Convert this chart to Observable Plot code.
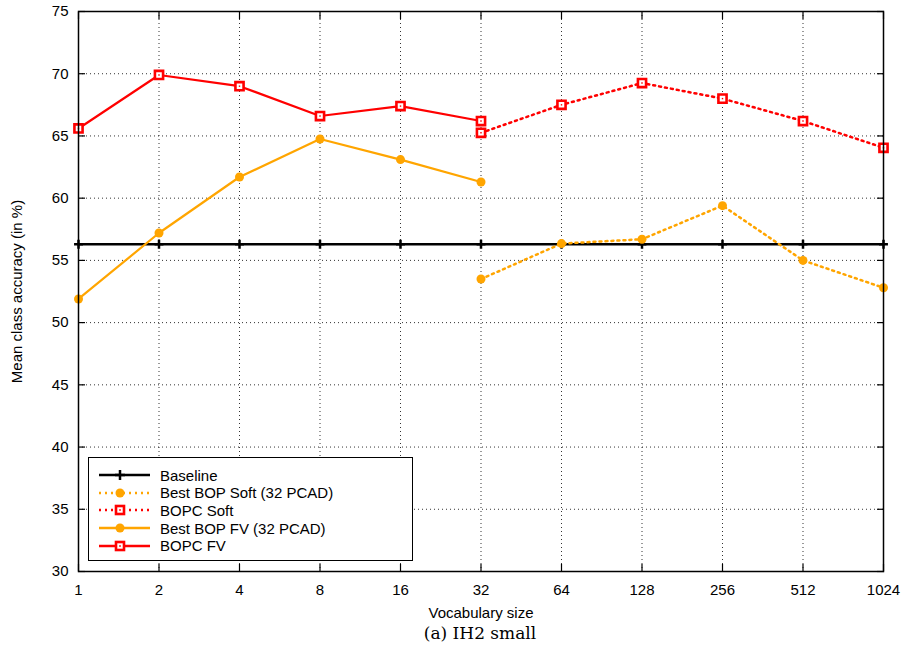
<!DOCTYPE html>
<html>
<head>
<meta charset="utf-8">
<script src="https://cdn.jsdelivr.net/npm/d3@7"></script>
<script src="https://cdn.jsdelivr.net/npm/@observablehq/plot@0.6"></script>
<style>
  html, body { margin: 0; padding: 0; background: #fff; }
  #wrap { position: relative; width: 908px; }
  #chart svg { display: block; }
  #caption { display: block; width: 960px; margin-top: 1px; text-align: center; line-height: 21px;
    font-family: "DejaVu Serif", "Liberation Serif", serif; font-size: 17px; color: #000; }
  #legend { position: absolute; left: 88px; top: 457px; width: 325px; height: 104px;
    border: 1.5px solid #000; background: #fff; box-sizing: border-box;
    font-family: "Liberation Sans", Arial, sans-serif; font-size: 15px; }
  #legend .row { position: absolute; left: 0; height: 18px; display: flex; align-items: center; }
  #legend svg { margin-left: 10px; }
  #legend span { margin-left: 10px; white-space: nowrap; }
</style>
</head>
<body>
<div id="wrap">
  <div id="chart"></div>
  <div id="legend"></div>
  <div id="caption">(a) IH2 small</div>
</div>
<script>
// ---- data ----
const vocabTicks = [1, 2, 4, 8, 16, 32, 64, 128, 256, 512, 1024];
const yTicks = [30, 35, 40, 45, 50, 55, 60, 65, 70, 75];

const baselineX = [1, 2, 4, 8, 16, 32, 64, 128, 256, 512, 1024];
const baselineY = [56.3, 56.3, 56.3, 56.3, 56.3, 56.3, 56.3, 56.3, 56.3, 56.3, 56.3];

const bopSoftX = [32, 64, 128, 256, 512, 1024];
const bopSoftY = [53.5, 56.35, 56.7, 59.4, 55.0, 52.8];

const bopcSoftX = [32, 64, 128, 256, 512, 1024];
const bopcSoftY = [65.25, 67.5, 69.25, 68.0, 66.2, 64.05];

const bopFvX = [1, 2, 4, 8, 16, 32];
const bopFvY = [51.9, 57.2, 61.7, 64.75, 63.1, 61.3];

const bopcFvX = [1, 2, 4, 8, 16, 32];
const bopcFvY = [65.6, 69.9, 69.0, 66.6, 67.4, 66.2];

const seriesNames = ["Baseline", "Best BOP Soft (32 PCAD)", "BOPC Soft", "Best BOP FV (32 PCAD)", "BOPC FV"];

// ---- build tables ----
const zip = (xs, ys) => xs.map((x, i) => ({x, y: ys[i]}));
const baseline = zip(baselineX, baselineY);
const bopSoft = zip(bopSoftX, bopSoftY);
const bopcSoft = zip(bopcSoftX, bopcSoftY);
const bopFv = zip(bopFvX, bopFvY);
const bopcFv = zip(bopcFvX, bopcFvY);

const ORANGE = "#ffa500";
const RED = "#ff0000";
const DOT = "2 4";

const crossSymbol = {
  draw(context, size) {
    const r = Math.sqrt(size) / 2;
    context.moveTo(-r, 0); context.lineTo(r, 0);
    context.moveTo(0, -r); context.lineTo(0, r);
  }
};

const font = "'Liberation Sans', Arial, sans-serif";

const chart = Plot.plot({
  width: 908,
  height: 622,
  marginLeft: 78,
  marginRight: 25,
  marginTop: 11,
  marginBottom: 51,
  style: {fontFamily: font, fontSize: "15px", color: "#000", background: "#fff"},
  x: {type: "log", base: 2, domain: [1, 1024]},
  y: {domain: [30, 75]},
  marks: [
    Plot.gridX(vocabTicks, {stroke: "#000", strokeOpacity: 0.8, strokeDasharray: "1 3", strokeWidth: 1}),
    Plot.gridY(yTicks, {stroke: "#000", strokeOpacity: 0.8, strokeDasharray: "1 3", strokeWidth: 1}),
    Plot.axisX({ticks: vocabTicks, tickFormat: d => String(d), tickSize: -7, tickPadding: 20,
      label: "Vocabulary size", labelAnchor: "center", labelArrow: "none", labelOffset: 46, strokeWidth: 1.2}),
    Plot.axisX({anchor: "top", ticks: vocabTicks, tickFormat: () => "", tickSize: -7, label: null, strokeWidth: 1.2}),
    Plot.axisY({ticks: yTicks, tickSize: -7, tickPadding: 17,
      label: "Mean class accuracy (in %)", labelAnchor: "center", labelArrow: "none", labelOffset: 67, strokeWidth: 1.2}),
    Plot.axisY({anchor: "right", ticks: yTicks, tickFormat: () => "", tickSize: -7, label: null, strokeWidth: 1.2}),
    // Baseline
    Plot.line(baseline, {x: "x", y: "y", stroke: "#000", strokeWidth: 2.5}),
    Plot.dot(baseline, {x: "x", y: "y", symbol: crossSymbol, r: 5, stroke: "#000", strokeWidth: 2.5}),
    // Best BOP Soft
    Plot.line(bopSoft, {x: "x", y: "y", stroke: ORANGE, strokeWidth: 2.5, strokeDasharray: DOT}),
    Plot.dot(bopSoft, {x: "x", y: "y", r: 4.5, fill: ORANGE}),
    // BOPC Soft
    Plot.line(bopcSoft, {x: "x", y: "y", stroke: RED, strokeWidth: 2.5, strokeDasharray: DOT}),
    Plot.dot(bopcSoft, {x: "x", y: "y", symbol: "square", r: 4.6, stroke: RED, strokeWidth: 2.6, fill: "#fff"}),
    Plot.dot(bopcSoft, {x: "x", y: "y", symbol: "square", r: 0.8, fill: RED}),
    // Best BOP FV
    Plot.line(bopFv, {x: "x", y: "y", stroke: ORANGE, strokeWidth: 2.2}),
    Plot.dot(bopFv, {x: "x", y: "y", r: 4.5, fill: ORANGE}),
    // BOPC FV
    Plot.line(bopcFv, {x: "x", y: "y", stroke: RED, strokeWidth: 2.2}),
    Plot.dot(bopcFv, {x: "x", y: "y", symbol: "square", r: 4.6, stroke: RED, strokeWidth: 2.6, fill: "#fff"}),
    Plot.dot(bopcFv, {x: "x", y: "y", symbol: "square", r: 0.8, fill: RED}),
    Plot.frame({stroke: "#000", strokeWidth: 1.5})
  ]
});
document.getElementById("chart").appendChild(chart);

// ---- legend ----
const legendStyles = [
  {stroke: "#000", dash: null, marker: "cross"},
  {stroke: ORANGE, dash: DOT, marker: "circle"},
  {stroke: RED, dash: DOT, marker: "square"},
  {stroke: ORANGE, dash: null, marker: "circle"},
  {stroke: RED, dash: null, marker: "square"}
];
const legend = document.getElementById("legend");
seriesNames.forEach((name, i) => {
  const st = legendStyles[i];
  const row = document.createElement("div");
  row.className = "row";
  row.style.top = (8 + i * 17.7) + "px";
  let marker = "";
  if (st.marker === "cross") marker = `<path d="M21,-5V5M16,0H26" stroke="#000" stroke-width="2.5"/>`;
  if (st.marker === "circle") marker = `<circle cx="21" cy="0" r="4.5" fill="${st.stroke}"/>`;
  if (st.marker === "square") marker = `<rect x="17" y="-4" width="8" height="8" fill="#fff" stroke="${st.stroke}" stroke-width="2.6"/><rect x="20.2" y="-0.8" width="1.6" height="1.6" fill="${st.stroke}"/>`;
  row.innerHTML = `<svg width="51" height="14" viewBox="0 -7 51 14"><line x1="0" x2="51" y1="0" y2="0" stroke="${st.stroke}" stroke-width="2.5" ${st.dash ? `stroke-dasharray="${st.dash}"` : ""}/>${marker}</svg><span>${name}</span>`;
  legend.appendChild(row);
});
</script>
</body>
</html>
